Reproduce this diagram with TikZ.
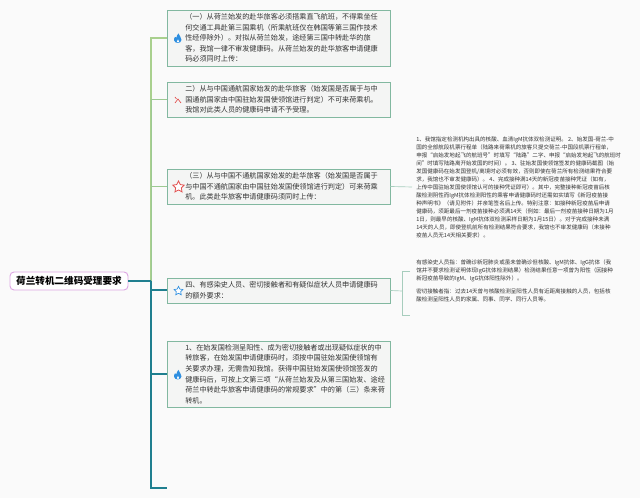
\documentclass[tikz,border=0pt]{standalone}
\usepackage{fontspec}
\setmainfont{Noto Sans CJK SC}
\usetikzlibrary{shapes.geometric}
\definecolor{paper}{HTML}{FAFAFA}
\definecolor{boxfill}{HTML}{F4F5F4}
\definecolor{boxline}{HTML}{82B8A0}
\definecolor{limbgreen}{HTML}{A9D08E}
\definecolor{limbteal}{HTML}{1F7F8F}
\definecolor{rootline}{HTML}{DDA6E3}
\definecolor{inkgray}{HTML}{333333}
\definecolor{iconblue}{HTML}{2E8FE0}
\definecolor{iconred}{HTML}{E2504F}
\tikzset{
x=0.75pt, y=-0.75pt,
root/.style={draw=rootline, fill=white, rounded corners=3pt, line width=0.7pt, minimum width=88.5pt, minimum height=13.5pt, inner sep=0pt, font=\fontsize{7.2}{9}\selectfont\bfseries, text=black},
topic/.style={draw=boxline, fill=boxfill, line width=0.65pt, minimum width=167.25pt, inner sep=0pt},
topictext/.style={anchor=west, align=left, inner sep=0pt, text=inkgray, font=\fontsize{5.35}{7.9}\selectfont},
note/.style={anchor=north west, align=left, inner sep=0pt, text=inkgray, font=\fontsize{4.15}{6}\selectfont},
limbup/.style={draw=limbgreen, line width=1.1pt},
limbthin/.style={draw=limbgreen!70!boxline, line width=0.7pt},
limbdown/.style={draw=limbteal, line width=1.5pt},
notelimb/.style={draw=boxline!70, line width=0.5pt},
flame/.pic={
  \fill[iconblue] (0,4.5) .. controls (-4.5,4.5) and (-4.5,0) .. (-3,-1.5) .. controls (-2.5,-0.5) and (-2,-0.5) .. (-1.5,-1) .. controls (-1.5,-2.5) and (-0.5,-4) .. (0.5,-5) .. controls (0.8,-2.5) and (4,-1) .. (3.5,1.5) .. controls (3.2,3.5) and (1.5,4.5) .. (0,4.5) -- cycle;
  \fill[white] (0,4) .. controls (-1.5,4) and (-1.5,2.5) .. (0,1) .. controls (1.5,2.5) and (1.5,4) .. (0,4) -- cycle;
},
}
\begin{document}
\begin{tikzpicture}
\useasboundingbox[fill=paper] (0,0) rectangle (640,498);

% topics
\node[root] (root) at (69,281) {荷兰转机二维码受理要求};
\node[topic, minimum height=42pt] (q1) at (278.5,38) {};
\node[topic, minimum height=26.25pt] (q2) at (278.5,99.5) {};
\node[topic, minimum height=26.25pt] (q3) at (278.5,186.5) {};
\node[topic, minimum height=18.75pt] (q4) at (278.5,290.5) {};
\node[topic, minimum height=49.5pt] (q5) at (278.5,374) {};

\node[topictext] (t1) at (185,38) {（一）从荷兰始发的赴华旅客必须搭乘直飞航班，不得乘坐任\\何交通工具赴第三国乘机（所乘航班仅在韩国等第三国作技术\\性经停除外）。对拟从荷兰始发，途经第三国中转赴华的旅\\客，我馆一律不审发健康码。从荷兰始发的赴华旅客申请健康\\码必须同时上传：};
\node[topictext] (t2) at (185,99.5) {二）从与中国通航国家始发的赴华旅客（始发国是否属于与中\\国通航国家由中国驻始发国使领馆进行判定）不可来荷乘机。\\我馆对此类人员的健康码申请不予受理。};
\node[topictext] (t3) at (185,186.5) {（三）从与中国不通航国家始发的赴华旅客（始发国是否属于\\与中国不通航国家由中国驻始发国使领馆进行判定）可来荷乘\\机。此类赴华旅客申请健康码须同时上传：};
\node[topictext] (t4) at (185,290.5) {四、有感染史人员、密切接触者和有疑似症状人员申请健康码\\的额外要求：};
\node[topictext] (t5) at (185,374) {1、在始发国检测呈阳性、成为密切接触者或出现疑似症状的中\\转旅客，在始发国申请健康码时，须按中国驻始发国使领馆有\\关要求办理，无需告知我馆。获得中国驻始发国使领馆签发的\\健康码后，可按上文第三项“从荷兰始发及从第三国始发、途经\\荷兰中转赴华旅客申请健康码的常规要求”中的第（三）条来荷\\转机。};

% notes
\node[note] (n1) at (416,136.5) {1、我馆指定检测机构出具的核酸、血清IgM抗体双检测证明。 2、始发国-荷兰-中\\国的全部航段机票行程单（陆路来荷乘机的旅客只提交荷兰-中国段机票行程单，\\申报“启始发地起飞的航班号”时填写“陆路”二字、申报“启始发地起飞的航班时\\间”时填写陆路离开始发国的时间）。 3、驻始发国使领馆签发的健康码截图（始\\发国健康码在始发国登机/离境时必须有效，否则即使在荷兰所有检测结果符合要\\求，我馆也不审发健康码）。 4、完成接种满14天的新冠疫苗接种凭证（如有，\\上传中国驻始发国使领馆认可的接种凭证即可）。其中，完整接种新冠疫苗后核\\酸检测阴性而IgM抗体检测阳性的乘客申请健康码时还需如实填写《新冠疫苗接\\种声明书》（请见附件）并亲笔签名后上传。特别注意：如接种新冠疫苗后申请\\健康码，须距最后一剂疫苗接种必须满14天（例如：最后一剂疫苗接种日期为1月\\1日，则最早的核酸、IgM抗体双检测采样日期为1月15日）。对于完成接种未满\\14天的人员，即使登机前所有检测结果符合要求，我馆也不审发健康码（未接种\\疫苗人员无14天相关要求）。};
\node[note] (n2) at (416,259.5) {有感染史人员指：曾确诊新冠肺炎或虽未曾确诊但核酸、IgM抗体、IgG抗体（我\\馆并不要求检测证明体现IgG抗体检测结果）检测结果任意一项曾为阳性（因接种\\新冠疫苗导致的IgM、IgG抗体阳性除外）。};
\node[note] (n3) at (416,288.5) {密切接触者指：过去14天曾与核酸检测呈阳性人员有近距离接触的人员，包括核\\酸检测呈阳性人员的家属、同事、同学、同行人员等。};

% icons
\pic at (178,38.5) {flame};
\pic at (178,375) {flame};
\node[star, star points=5, star point ratio=2, draw=iconred, line width=0.6pt, fill=white, minimum size=9pt, inner sep=0pt] (s3) at (178.5,187) {};
\node[star, star points=5, star point ratio=2, draw=iconblue, line width=0.5pt, fill=white, minimum size=7pt, inner sep=0pt] (s4) at (178.5,291) {};
\coordinate (c2) at (178,100);
\draw[iconred, line width=0.5pt] ([shift={(-3,3)}]c2) -- ([shift={(0,-1)}]c2) -- ([shift={(3,3)}]c2);
\draw[iconred, line width=0.5pt] ([shift={(-1.5,-1)}]c2) -- ([shift={(-3,-3)}]c2);

% limbs
\coordinate (joint) at (151,281);
\coordinate (tail) at (167,488);
\coordinate (nf1) at (402,271);
\coordinate (nf2) at (402,315);
\coordinate (nj) at (402,291);
\draw[limbup] (joint) |- (q1.west);
\draw[limbthin] (joint) |- (q2.west);
\draw[limbthin] (joint) |- (q3.west);
\draw[limbdown] (root.east) -- (joint);
\draw[limbdown] (joint) |- (q4.west);
\draw[limbdown] (joint) |- (q5.west);
\draw[limbdown] (joint) |- (tail);
\coordinate (n1in) at (412,187);
\draw[notelimb] (q3.east) -- (n1in);
\coordinate (nfe1) at (410,271);
\coordinate (nfe2) at (410,315);
\draw[notelimb] (q4.east) -- (nj);
\draw[notelimb] (nfe1) -- (nf1) -- (nf2) -- (nfe2);
\end{tikzpicture}
\end{document}
